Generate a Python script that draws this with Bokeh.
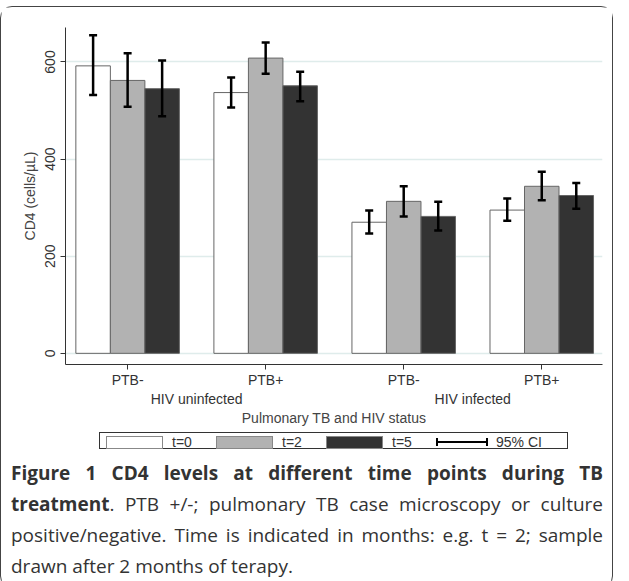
import numpy as np
from bokeh.embed import file_html
from bokeh.layouts import column
from bokeh.models import ColumnDataSource, Div, FixedTicker, LinearAxis, TeeHead, Whisker
from bokeh.plotting import figure
from bokeh.resources import INLINE

groups = ["PTB-", "PTB+", "PTB-", "PTB+"]
hiv_status = ["HIV uninfected", "HIV infected"]
series = ["t=0", "t=2", "t=5"]
colors = ["#ffffff", "#b2b2b2", "#333333"]

cd4_t0 = [592, 537, 270, 295]
cd4_t2 = [562, 608, 313, 344]
cd4_t5 = [545, 551, 282, 325]
lo_t0 = [532, 506, 247, 273]
hi_t0 = [655, 568, 294, 319]
lo_t2 = [508, 576, 282, 315]
hi_t2 = [618, 640, 344, 374]
lo_t5 = [488, 519, 253, 298]
hi_t5 = [603, 580, 312, 351]

FONT = "Liberation Sans"
FS = "14px"

p = figure(frame_width=537, frame_height=337, x_range=(0.55, 4.44), y_range=(-23, 671),
           output_backend="svg", toolbar_location=None, min_border_left=64,
           min_border_right=10, min_border_top=20, min_border_bottom=2)
p.outline_line_color = None

centers = np.arange(1, 5)
vals = [cd4_t0, cd4_t2, cd4_t5]
los = [lo_t0, lo_t2, lo_t5]
his = [hi_t0, hi_t2, hi_t5]
for i, col in enumerate(colors):
    x = centers + (i - 1) * 0.25
    src = ColumnDataSource(dict(x=x, top=vals[i], lo=los[i], hi=his[i]))
    p.vbar(x="x", top="top", bottom=0, width=0.25, source=src,
           fill_color=col, line_color="#666666", line_width=1)
    w = Whisker(base="x", lower="lo", upper="hi", source=src, level="overlay",
                line_width=2.5, line_color="black",
                upper_head=TeeHead(size=8, line_width=2.5, line_color="black"),
                lower_head=TeeHead(size=8, line_width=2.5, line_color="black"))
    p.add_layout(w)

p.xaxis.ticker = FixedTicker(ticks=list(centers))
p.xaxis.major_label_overrides = {int(c): g for c, g in zip(centers, groups)}
p.xaxis.major_label_standoff = 2
p.yaxis.ticker = FixedTicker(ticks=[0, 200, 400, 600])
p.yaxis.major_label_orientation = "vertical"
p.yaxis.axis_label = "CD4 (cells/µL)"
p.xgrid.visible = False
p.ygrid.grid_line_color = "#dfeceb"
p.ygrid.grid_line_width = 1.5
for ax in [p.xaxis[0], p.yaxis[0]]:
    ax.axis_line_color = "#333333"
    ax.major_tick_line_color = "#333333"
    ax.minor_tick_line_color = None
    ax.major_label_text_font = FONT
    ax.major_label_text_font_size = FS
    ax.major_label_text_color = "#333333"
    ax.axis_label_text_font = FONT
    ax.axis_label_text_font_size = FS
    ax.axis_label_text_font_style = "normal"
    ax.major_tick_out = 5
    ax.major_tick_in = 0

ax2 = LinearAxis(ticker=FixedTicker(ticks=[1.5, 3.5]),
                 major_label_overrides={1.5: hiv_status[0], 3.5: hiv_status[1]},
                 axis_label="Pulmonary TB and HIV status",
                 axis_line_color=None, major_tick_line_color=None,
                 minor_tick_line_color=None, major_tick_out=0, major_label_standoff=0,
                 major_label_text_font=FONT, major_label_text_font_size=FS,
                 major_label_text_color="#333333", axis_label_text_font=FONT,
                 axis_label_text_font_size=FS, axis_label_text_font_style="normal",
                 axis_label_standoff=0)
p.add_layout(ax2, "below")

# legend as an html strip
sw = ('<span style="display:inline-block;width:57px;height:13px;background:{c};'
      'border:1px solid #888;vertical-align:middle;margin-right:9px"></span>'
      '<span style="display:inline-block;width:44px;vertical-align:middle">{n}</span>')
ci_mark = ('<span style="display:inline-block;width:52px;height:8px;vertical-align:middle;'
           'border-left:2px solid #000;border-right:2px solid #000;margin-right:8px;'
           'background:linear-gradient(#000,#000) center/100% 2px no-repeat"></span>'
           '<span style="vertical-align:middle">95% CI</span>')
legend_html = "".join(sw.format(c=c, n=n) for c, n in zip(colors, series)) + ci_mark
lg = Div(text=legend_html, width=469, height=17,
         styles={"font-family": FONT, "font-size": FS, "color": "#333333",
                 "border": "1px solid #333", "padding": "1px 0 1px 6px",
                 "margin-left": "98px", "line-height": "15px", "white-space": "nowrap",
                 "margin-top": "4px"})

caption = Div(text=(
    "<b>Figure 1 CD4 levels at different time points during TB treatment</b>. "
    "PTB +/-; pulmonary TB case microscopy or culture positive/negative. "
    "Time is indicated in months: e.g. t = 2; sample drawn after 2 months of terapy."),
    width=592, styles={"font-family": "Open Sans", "font-size": "19px",
                       "line-height": "31px", "text-align": "justify",
                       "color": "#333333", "margin-left": "10px", "margin-top": "4px"})

layout = column(p, lg, caption, spacing=0,
                styles={"border": "1.5px solid #444", "border-radius": "12px",
                        "margin-top": "6px"})
open("out.html", "w").write(file_html(layout, INLINE))
